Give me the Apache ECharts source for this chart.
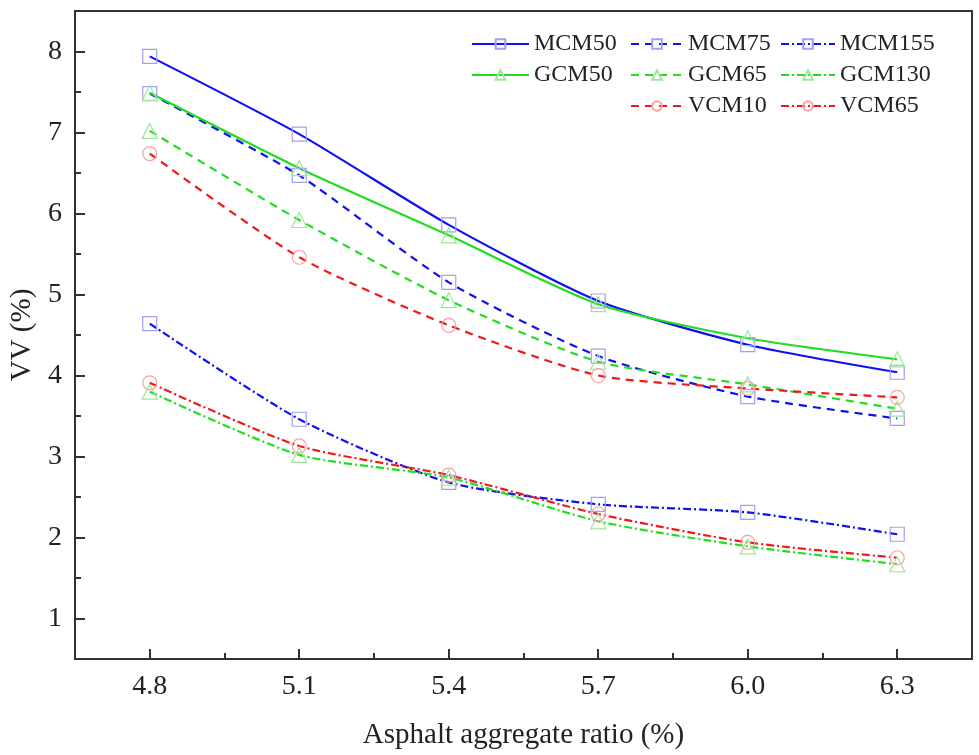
<!DOCTYPE html>
<html>
<head>
<meta charset="utf-8">
<script src="https://cdn.jsdelivr.net/npm/echarts@6/dist/echarts.min.js"></script>
<style>html,body{margin:0;padding:0;background:#fff}#c{width:979px;height:755px}</style>
</head>
<body>
<div id="c"></div>
<script>
// ---- data ----
const asphaltRatio = [4.8, 5.1, 5.4, 5.7, 6.0, 6.3];
const xTickLabels = [4.8, 5.1, 5.4, 5.7, 6.0, 6.3];
const xMinorTicks = [4.95, 5.25, 5.55, 5.85, 6.15];
const yTickLabels = [1, 2, 3, 4, 5, 6, 7, 8];
const yMinorTicks = [1.5, 2.5, 3.5, 4.5, 5.5, 6.5, 7.5];

const MCM50  = [7.94, 6.98, 5.86, 4.92, 4.38, 4.04];
const MCM75  = [7.48, 6.47, 5.15, 4.24, 3.74, 3.47];
const MCM155 = [4.64, 3.46, 2.68, 2.41, 2.31, 2.04];
const GCM50  = [7.49, 6.56, 5.73, 4.88, 4.46, 4.20];
const GCM65  = [7.02, 5.92, 4.93, 4.17, 3.89, 3.59];
const GCM130 = [3.80, 3.02, 2.74, 2.20, 1.89, 1.67];
const VCM10  = [6.74, 5.46, 4.62, 4.00, 3.84, 3.73];
const VCM65  = [3.91, 3.13, 2.77, 2.29, 1.94, 1.75];

const FONT = '"Liberation Serif","Times New Roman",serif';
const BLUE = '#1010f0', GREEN = '#20dd20', RED = '#f01818';
const MBLUE = '#a0a0f4', MGREEN = '#9ee69e', MRED = '#f6a0a0';
const SOLID = 'solid', DASH = [8, 6], DASHDOT = [8, 3, 2, 3];

function mk(name, vals, color, mcolor, symbol, dash) {
  return {
    name, type: 'line', smooth: 0.22,
    data: vals.map((v, i) => [asphaltRatio[i], v]),
    symbol, symbolSize: symbol === 'triangle' ? 15 : 14,
    lineStyle: { color, width: 2.2, type: dash },
    itemStyle: { color: 'rgba(255,255,255,0)', borderColor: mcolor, borderWidth: 1.2 },
    emphasis: { disabled: true },
    z: 3
  };
}

const series = [
  mk('MCM50', MCM50, BLUE, MBLUE, 'rect', SOLID),
  mk('MCM75', MCM75, BLUE, MBLUE, 'rect', DASH),
  mk('MCM155', MCM155, BLUE, MBLUE, 'rect', DASHDOT),
  mk('GCM50', GCM50, GREEN, MGREEN, 'triangle', SOLID),
  mk('GCM65', GCM65, GREEN, MGREEN, 'triangle', DASH),
  mk('GCM130', GCM130, GREEN, MGREEN, 'triangle', DASHDOT),
  mk('VCM10', VCM10, RED, MRED, 'circle', DASH),
  mk('VCM65', VCM65, RED, MRED, 'circle', DASHDOT)
];

const legendBase = {
  orient: 'vertical', top: 32, padding: 0, itemHeight: 12, itemGap: 7,
  textStyle: { fontFamily: FONT, fontSize: 24, color: '#222', lineHeight: 24 },
  selectedMode: false
};

const chart = echarts.init(document.getElementById('c'), null, { renderer: 'canvas' });
chart.setOption({
  backgroundColor: '#fff',
  animation: false,
  grid: { left: 75, top: 11, right: 7, bottom: 94, show: true, borderColor: '#333', borderWidth: 2, backgroundColor: 'transparent' },
  legend: [
    Object.assign({}, legendBase, { left: 471, itemWidth: 57, data: ['MCM50', 'GCM50'] }),
    Object.assign({}, legendBase, { left: 630, itemWidth: 52, data: ['MCM75', 'GCM65', 'VCM10'] }),
    Object.assign({}, legendBase, { left: 780, itemWidth: 54, data: ['MCM155', 'GCM130', 'VCM65'] })
  ],
  xAxis: [
    {
      type: 'value', min: 4.65, max: 6.45,
      name: 'Asphalt aggregate ratio (%)', nameLocation: 'middle', nameGap: 62,
      nameTextStyle: { fontFamily: FONT, fontSize: 29, color: '#222' },
      axisLine: { show: true, lineStyle: { color: '#333', width: 2 } },
      axisTick: { show: true, inside: true, length: 10, customValues: xTickLabels, lineStyle: { color: '#333', width: 2 } },
      axisLabel: { show: true, customValues: xTickLabels, margin: 14, formatter: v => Number(v).toFixed(1), fontFamily: FONT, fontSize: 28, color: '#222' },
      splitLine: { show: false }
    },
    {
      type: 'value', min: 4.65, max: 6.45, position: 'bottom',
      axisLine: { show: false },
      axisTick: { show: true, inside: true, length: 6, customValues: xMinorTicks, lineStyle: { color: '#333', width: 2 } },
      axisLabel: { show: false },
      splitLine: { show: false }
    }
  ],
  yAxis: [
    {
      type: 'value', min: 0.5, max: 8.5,
      name: 'VV (%)', nameLocation: 'middle', nameGap: 34,
      nameTextStyle: { fontFamily: FONT, fontSize: 29, color: '#222' },
      axisLine: { show: true, lineStyle: { color: '#333', width: 2 } },
      axisTick: { show: true, inside: true, length: 10, customValues: yTickLabels, lineStyle: { color: '#333', width: 2 } },
      axisLabel: { show: true, customValues: yTickLabels, margin: 13, fontFamily: FONT, fontSize: 28, color: '#222' },
      splitLine: { show: false }
    },
    {
      type: 'value', min: 0.5, max: 8.5, position: 'left',
      axisLine: { show: false },
      axisTick: { show: true, inside: true, length: 6, customValues: yMinorTicks, lineStyle: { color: '#333', width: 2 } },
      axisLabel: { show: false },
      splitLine: { show: false }
    }
  ],
  series
});
</script>
</body>
</html>
